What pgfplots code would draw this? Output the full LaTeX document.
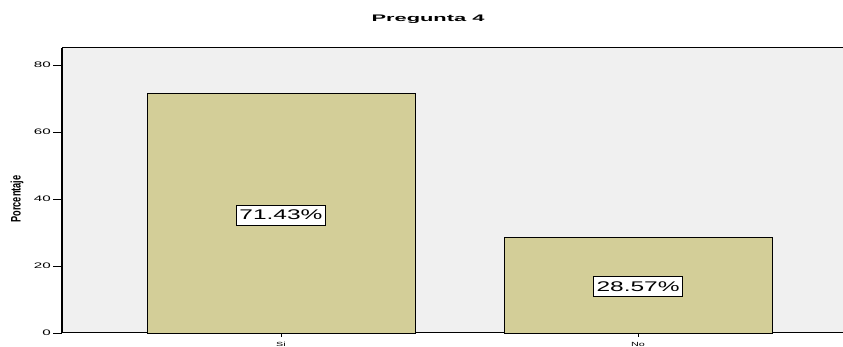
\documentclass[border=0pt]{standalone}
\usepackage{pgfplots}
\pgfplotsset{compat=1.18}
\usepackage{fontspec}
\setmainfont{Liberation Sans}
\definecolor{bartan}{HTML}{D3CE98}
\definecolor{plotbg}{HTML}{F0F0F0}
\begin{document}
\begin{tikzpicture}
\useasboundingbox (0pt,0pt) rectangle (843pt,347pt);
\clip (0pt,0pt) rectangle (843pt,347pt);
\begin{axis}[
  at={(62pt,14pt)}, anchor=south west,
  scale only axis, width=795pt, height=285pt,
  xmin=-0.613, xmax=1.613, ymin=0, ymax=85.1,
  xtick={0,1}, xticklabels={\scalebox{1.8}[1]{Si},\scalebox{1.8}[1]{No}},
  ytick={0,20,40,60,80},
  tick pos=left, tick align=outside,
  major tick length=9pt,
  tick style={black, line width=0.8pt},
  xtick style={/pgfplots/major tick length=4pt},
  axis background/.style={fill=plotbg},
  axis line style={black, line width=1pt},
  /pgf/number format/assume math mode=true,
  yticklabel={\scalebox{1.9}[1]{\fontsize{8}{8}\selectfont\pgfmathprintnumber{\tick}}},
  yticklabel style={inner xsep=2pt},
  xticklabel style={font=\fontsize{6}{6}\selectfont, inner ysep=0.5pt, text height=4.3pt, text depth=0pt},
  clip=false,
]
\addplot[ybar, bar width=0.75, bar shift=0pt, fill=bartan, draw=black, line width=0.6pt]
  coordinates {(0,71.43) (1,28.57)};
\addplot[only marks, mark=none, point meta=explicit,
  nodes near coords={\scalebox{1.75}[1]{\fontsize{14}{14}\selectfont\pgfmathprintnumber[fixed,precision=2,fixed zerofill]{\pgfplotspointmeta}\%}},
  every node near coord/.style={anchor=center, fill=white, draw=black, line width=0.6pt, inner xsep=3pt, minimum height=20pt}]
  coordinates {(0,35.2) [71.43] (1,13.8) [28.57]};
\draw[black, line width=2pt] (axis cs:-0.613,0) -- (axis cs:-0.613,85.1);
\end{axis}
\node at (17pt,148pt) {\scalebox{1.5}[1]{\rotatebox{90}{\fontsize{9.2}{9.2}\selectfont\bfseries Porcentaje}}};
\node at (428pt,328pt) {\scalebox{2.3}[1]{\fontsize{9.5}{9.5}\selectfont\bfseries Pregunta 4}};
\end{tikzpicture}
\end{document}
